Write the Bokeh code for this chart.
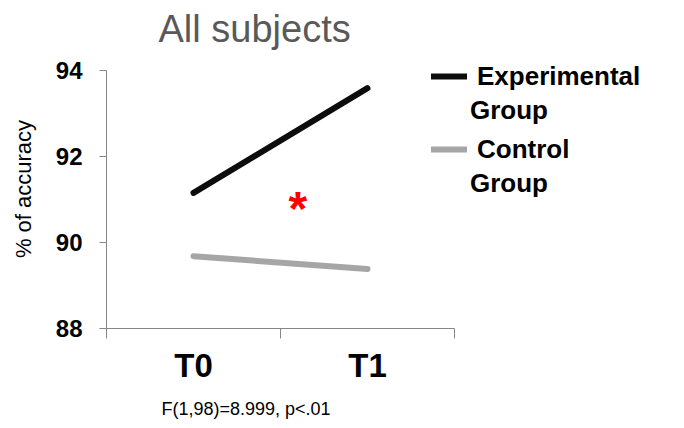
from bokeh.plotting import figure
from bokeh.models import Range1d, FixedTicker, Title, Legend, LegendItem
from bokeh.core.properties import value
from bokeh.embed import file_html
from bokeh.resources import INLINE

# Mean accuracy (%) per session
categories = ["T0", "T1"]
experimental = [91.15, 93.58]
control = [89.68, 89.38]
y_ticks = [88, 90, 92, 94]
series_first_line = ["Experimental", "Control"]
series_second_line = ["Group", "Group"]
chart_title = "All subjects"
y_title = "% of accuracy"
stat_note = "F(1,98)=8.999, p<.01"
# significance marker for the group x time interaction
star_x = [1.1]
star_y = [90.93]

FONT = "Liberation Sans"
AXIS_GREY = "#868686"
EXP_COLOR = "#0d0d0d"
CTL_COLOR = "#a6a6a6"

x_pos = [i + 0.5 for i in range(len(categories))]
bounds = list(range(len(categories) + 1))

# the frame extends a little above the top tick so the legend fits inside it;
# the y axis itself is bounded to the tick range
p = figure(width=684, height=428,
           x_range=Range1d(0, 3.322), y_range=Range1d(88, 94.478),
           output_backend="svg", toolbar_location=None,
           min_border_left=106, min_border_right=0,
           min_border_top=49, min_border_bottom=97)
p.outline_line_color = None
p.xgrid.grid_line_color = None
p.ygrid.grid_line_color = None

p.title = Title(text=chart_title, align="left", offset=52, standoff=0,
                text_font=FONT, text_font_size="38px",
                text_font_style="normal", text_color="#595959")

r_exp = p.line(x_pos, experimental, line_color=EXP_COLOR, line_width=6, line_cap="round")
r_ctl = p.line(x_pos, control, line_color=CTL_COLOR, line_width=6, line_cap="round")

p.text(x=star_x, y=star_y, text=["*"], text_color="red", text_font=value(FONT),
       text_font_size="48px", text_font_style="bold",
       text_align="center", text_baseline="middle", y_offset=6)

# y axis
ya = p.yaxis[0]
ya.ticker = FixedTicker(ticks=y_ticks)
ya.bounds = (y_ticks[0], y_ticks[-1])
ya.axis_line_color = AXIS_GREY
ya.major_tick_line_color = AXIS_GREY
ya.major_tick_out = 7
ya.major_tick_in = 0
ya.minor_tick_line_color = None
ya.major_label_text_font = FONT
ya.major_label_text_font_size = "24px"
ya.major_label_text_font_style = "bold"
ya.major_label_text_color = "black"
ya.major_label_standoff = 17
ya.axis_label = y_title
ya.axis_label_text_font = FONT
ya.axis_label_text_font_size = "22px"
ya.axis_label_text_font_style = "normal"
ya.axis_label_text_color = "black"
ya.axis_label_standoff = 17

# x axis: category labels centred, boundary ticks between categories
xa = p.xaxis[0]
xa.ticker = FixedTicker(ticks=x_pos, minor_ticks=bounds)
xa.bounds = (bounds[0], bounds[-1])
xa.major_label_overrides = {x: c for x, c in zip(x_pos, categories)}
xa.axis_line_color = AXIS_GREY
xa.major_tick_line_color = None
xa.major_tick_out = 0
xa.major_tick_in = 0
xa.minor_tick_line_color = AXIS_GREY
xa.minor_tick_out = 10
xa.minor_tick_in = 0
xa.major_label_text_font = FONT
xa.major_label_text_font_size = "33px"
xa.major_label_text_font_style = "bold"
xa.major_label_text_color = "black"
xa.major_label_standoff = 8

p.add_layout(Title(text=stat_note, align="left", offset=55, standoff=20,
                   text_font=FONT, text_font_size="18px",
                   text_font_style="normal", text_color="black"), "below")

# legend: line swatch beside the first word, second word on its own row
legend_style = dict(orientation="vertical", glyph_height=40, label_height=40,
                    spacing=33, padding=0, margin=0,
                    border_line_color=None, background_fill_alpha=0,
                    label_text_font=FONT, label_text_font_size="26px",
                    label_text_font_style="bold", label_text_color="black")

main_legend = Legend(items=[LegendItem(label=series_first_line[0], renderers=[r_exp]),
                            LegendItem(label=series_first_line[1], renderers=[r_ctl])],
                     location=(325, 159), glyph_width=36, label_standoff=10,
                     **legend_style)
p.add_layout(main_legend)

blank_exp = p.line([], [], line_alpha=0)
blank_ctl = p.line([], [], line_alpha=0)
second_legend = Legend(items=[LegendItem(label=series_second_line[0], renderers=[blank_exp]),
                              LegendItem(label=series_second_line[1], renderers=[blank_ctl])],
                       location=(363, 125), glyph_width=1, label_standoff=0,
                       **legend_style)
p.add_layout(second_legend)

open("out.html", "w").write(file_html(p, INLINE))
